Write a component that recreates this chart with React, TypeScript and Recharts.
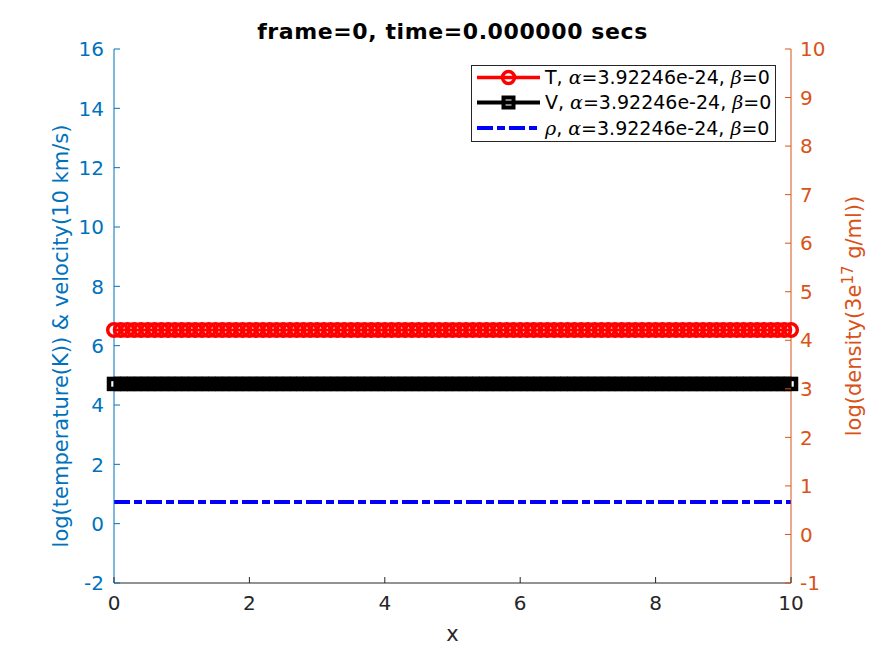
import React from 'react';
import { ComposedChart, Line, XAxis, YAxis, Legend } from 'recharts';

const xValues = [
  0, 0.1, 0.2, 0.3, 0.4, 0.5, 0.6, 0.7, 0.8, 0.9,
  1, 1.1, 1.2, 1.3, 1.4, 1.5, 1.6, 1.7, 1.8, 1.9,
  2, 2.1, 2.2, 2.3, 2.4, 2.5, 2.6, 2.7, 2.8, 2.9,
  3, 3.1, 3.2, 3.3, 3.4, 3.5, 3.6, 3.7, 3.8, 3.9,
  4, 4.1, 4.2, 4.3, 4.4, 4.5, 4.6, 4.7, 4.8, 4.9,
  5, 5.1, 5.2, 5.3, 5.4, 5.5, 5.6, 5.7, 5.8, 5.9,
  6, 6.1, 6.2, 6.3, 6.4, 6.5, 6.6, 6.7, 6.8, 6.9,
  7, 7.1, 7.2, 7.3, 7.4, 7.5, 7.6, 7.7, 7.8, 7.9,
  8, 8.1, 8.2, 8.3, 8.4, 8.5, 8.6, 8.7, 8.8, 8.9,
  9, 9.1, 9.2, 9.3, 9.4, 9.5, 9.6, 9.7, 9.8, 9.9,
  10,
];

const temperature = [
  6.53, 6.53, 6.53, 6.53, 6.53, 6.53, 6.53, 6.53, 6.53, 6.53,
  6.53, 6.53, 6.53, 6.53, 6.53, 6.53, 6.53, 6.53, 6.53, 6.53,
  6.53, 6.53, 6.53, 6.53, 6.53, 6.53, 6.53, 6.53, 6.53, 6.53,
  6.53, 6.53, 6.53, 6.53, 6.53, 6.53, 6.53, 6.53, 6.53, 6.53,
  6.53, 6.53, 6.53, 6.53, 6.53, 6.53, 6.53, 6.53, 6.53, 6.53,
  6.53, 6.53, 6.53, 6.53, 6.53, 6.53, 6.53, 6.53, 6.53, 6.53,
  6.53, 6.53, 6.53, 6.53, 6.53, 6.53, 6.53, 6.53, 6.53, 6.53,
  6.53, 6.53, 6.53, 6.53, 6.53, 6.53, 6.53, 6.53, 6.53, 6.53,
  6.53, 6.53, 6.53, 6.53, 6.53, 6.53, 6.53, 6.53, 6.53, 6.53,
  6.53, 6.53, 6.53, 6.53, 6.53, 6.53, 6.53, 6.53, 6.53, 6.53,
  6.53,
];

const velocity = [
  4.71, 4.71, 4.71, 4.71, 4.71, 4.71, 4.71, 4.71, 4.71, 4.71,
  4.71, 4.71, 4.71, 4.71, 4.71, 4.71, 4.71, 4.71, 4.71, 4.71,
  4.71, 4.71, 4.71, 4.71, 4.71, 4.71, 4.71, 4.71, 4.71, 4.71,
  4.71, 4.71, 4.71, 4.71, 4.71, 4.71, 4.71, 4.71, 4.71, 4.71,
  4.71, 4.71, 4.71, 4.71, 4.71, 4.71, 4.71, 4.71, 4.71, 4.71,
  4.71, 4.71, 4.71, 4.71, 4.71, 4.71, 4.71, 4.71, 4.71, 4.71,
  4.71, 4.71, 4.71, 4.71, 4.71, 4.71, 4.71, 4.71, 4.71, 4.71,
  4.71, 4.71, 4.71, 4.71, 4.71, 4.71, 4.71, 4.71, 4.71, 4.71,
  4.71, 4.71, 4.71, 4.71, 4.71, 4.71, 4.71, 4.71, 4.71, 4.71,
  4.71, 4.71, 4.71, 4.71, 4.71, 4.71, 4.71, 4.71, 4.71, 4.71,
  4.71,
];

const density = [
  0.67, 0.67, 0.67, 0.67, 0.67, 0.67, 0.67, 0.67, 0.67, 0.67,
  0.67, 0.67, 0.67, 0.67, 0.67, 0.67, 0.67, 0.67, 0.67, 0.67,
  0.67, 0.67, 0.67, 0.67, 0.67, 0.67, 0.67, 0.67, 0.67, 0.67,
  0.67, 0.67, 0.67, 0.67, 0.67, 0.67, 0.67, 0.67, 0.67, 0.67,
  0.67, 0.67, 0.67, 0.67, 0.67, 0.67, 0.67, 0.67, 0.67, 0.67,
  0.67, 0.67, 0.67, 0.67, 0.67, 0.67, 0.67, 0.67, 0.67, 0.67,
  0.67, 0.67, 0.67, 0.67, 0.67, 0.67, 0.67, 0.67, 0.67, 0.67,
  0.67, 0.67, 0.67, 0.67, 0.67, 0.67, 0.67, 0.67, 0.67, 0.67,
  0.67, 0.67, 0.67, 0.67, 0.67, 0.67, 0.67, 0.67, 0.67, 0.67,
  0.67, 0.67, 0.67, 0.67, 0.67, 0.67, 0.67, 0.67, 0.67, 0.67,
  0.67,
];

const xTicks = [0, 2, 4, 6, 8, 10];
const leftTicks = [-2, 0, 2, 4, 6, 8, 10, 12, 14, 16];
const rightTicks = [-1, 0, 1, 2, 3, 4, 5, 6, 7, 8, 9, 10];
const seriesNames = ['T', 'V', 'ρ'];
const alphaText = '3.92246e-24';
const betaText = '0';
const titleText = 'frame=0, time=0.000000 secs';

const data = xValues.map((x, i) => ({
  x,
  T: temperature[i],
  V: velocity[i],
  rho: density[i],
}));

const BLUE = '#0072BD';
const ORANGE = '#D95319';
const DARK = '#262626';
const FONT = '"DejaVu Sans", sans-serif';
const TICK_FS = 20;
const TICK_LEN = 6;

const LeftTick = (props: any) => {
  const { x, y, payload } = props;
  const ax = x + 10;
  return (
    <g>
      <line x1={ax} x2={ax + TICK_LEN} y1={y} y2={y} stroke={BLUE} strokeWidth={1} />
      <text x={x} y={y} dy="0.36em" textAnchor="end" fill={BLUE} fontSize={TICK_FS} fontFamily={FONT}>
        {String(payload.value)}
      </text>
    </g>
  );
};

const RightTick = (props: any) => {
  const { x, y, payload } = props;
  const ax = x - 9;
  return (
    <g>
      <line x1={ax} x2={ax - TICK_LEN} y1={y} y2={y} stroke={ORANGE} strokeWidth={1} />
      <text x={x} y={y} dy="0.36em" textAnchor="start" fill={ORANGE} fontSize={TICK_FS} fontFamily={FONT}>
        {String(payload.value)}
      </text>
    </g>
  );
};

const BottomTick = (props: any) => {
  const { x, y, payload } = props;
  const ay = y - 13;
  return (
    <g>
      <line x1={x} x2={x} y1={ay} y2={ay - TICK_LEN} stroke={DARK} strokeWidth={1} />
      <text x={x} y={y} dy="0.71em" textAnchor="middle" fill={DARK} fontSize={TICK_FS} fontFamily={FONT}>
        {String(payload.value)}
      </text>
    </g>
  );
};

const SquareDot = (props: any) => {
  const { cx, cy, index } = props;
  if (cx == null || cy == null) return <g key={index} />;
  return (
    <rect key={index} x={cx - 5} y={cy - 5} width={10} height={10} fill="none" stroke="#000000" strokeWidth={4.5} />
  );
};

const LegendLabel = ({ name }: { name: string }) => (
  <>
    <tspan fontStyle={name === 'ρ' ? 'italic' : 'normal'} fontFamily={name === 'ρ' ? '"DejaVu Serif", serif' : FONT}>{name}</tspan>
    <tspan>, </tspan>
    <tspan fontStyle="italic" fontFamily='"DejaVu Serif", serif'>α</tspan>
    <tspan>={alphaText}, </tspan>
    <tspan fontStyle="italic" fontFamily='"DejaVu Serif", serif'>β</tspan>
    <tspan>={betaText}</tspan>
  </>
);

const renderLegend = () => {
  const rows = [12.5, 37.5, 63];
  return (
    <svg width={306} height={77} style={{ display: 'block' }}>
      <rect x={0.5} y={0.5} width={304} height={76} fill="#ffffff" stroke={DARK} strokeWidth={1} />
      <line x1={6} x2={69} y1={rows[0]} y2={rows[0]} stroke="#ff0000" strokeWidth={3.5} />
      <circle cx={37.5} cy={rows[0]} r={6} fill="none" stroke="#ff0000" strokeWidth={3.5} />
      <line x1={6} x2={69} y1={rows[1]} y2={rows[1]} stroke="#000000" strokeWidth={4} />
      <rect x={32.5} y={rows[1] - 5} width={10} height={10} fill="none" stroke="#000000" strokeWidth={4} />
      <line x1={6} x2={69} y1={rows[2]} y2={rows[2]} stroke="#0000ff" strokeWidth={4} strokeDasharray="16 4 8 4" />
      {seriesNames.map((n, i) => (
        <text key={n} x={74} y={rows[i]} dy="0.36em" fontSize={19} fontFamily={FONT} fill="#000000">
          <LegendLabel name={n} />
        </text>
      ))}
    </svg>
  );
};

export default function App() {
  return (
    <div style={{ position: 'absolute', left: 0, top: 0, width: 875, height: 656, background: '#ffffff' }}>
      <ComposedChart
        width={875}
        height={656}
        data={data}
        margin={{ top: 49, right: 0, bottom: 0, left: 0 }}
      >
        <XAxis
          dataKey="x"
          type="number"
          domain={[0, 10]}
          ticks={xTicks}
          height={73}
          tickSize={0}
          tickMargin={13}
          tickLine={false}
          axisLine={{ stroke: DARK, strokeWidth: 1 }}
          tick={<BottomTick />}
          interval={0}
        />
        <YAxis
          yAxisId="L"
          orientation="left"
          type="number"
          domain={[-2, 16]}
          ticks={leftTicks}
          width={114}
          tickSize={0}
          tickMargin={10}
          tickLine={false}
          axisLine={{ stroke: BLUE, strokeWidth: 1 }}
          tick={<LeftTick />}
          interval={0}
        />
        <YAxis
          yAxisId="R"
          orientation="right"
          type="number"
          domain={[-1, 10]}
          ticks={rightTicks}
          width={84}
          tickSize={0}
          tickMargin={9}
          tickLine={false}
          axisLine={{ stroke: ORANGE, strokeWidth: 1 }}
          tick={<RightTick />}
          interval={0}
        />
        <Legend
          layout="horizontal"
          verticalAlign="middle"
          align="center"
          content={renderLegend}
          wrapperStyle={{ position: 'absolute', left: 471, top: 65, width: 306, height: 77 }}
        />
        <Line
          yAxisId="L"
          dataKey="T"
          name="T"
          stroke="#ff0000"
          strokeWidth={3}
          dot={{ r: 6.3, fill: 'none', stroke: '#ff0000', strokeWidth: 3.5 }}
          activeDot={false}
          isAnimationActive={false}
        />
        <Line
          yAxisId="L"
          dataKey="V"
          name="V"
          stroke="#000000"
          strokeWidth={4}
          dot={SquareDot}
          activeDot={false}
          isAnimationActive={false}
        />
        <Line
          yAxisId="R"
          dataKey="rho"
          name="ρ"
          stroke="#0000ff"
          strokeWidth={4}
          strokeDasharray="16 4 8 4"
          dot={false}
          activeDot={false}
          isAnimationActive={false}
        />
        <text x={452.5} y={31} dy="0.36em" textAnchor="middle" fontSize={22} letterSpacing={0.6} fontWeight="bold" fontFamily={FONT} fill="#000000">
          {titleText}
        </text>
        <text x={452.5} y={633} dy="0.36em" textAnchor="middle" fontSize={21} fontFamily={FONT} fill={DARK}>
          x
        </text>
        <text
          x={60}
          y={336}
          dy="0.36em"
          textAnchor="middle"
          fontSize={21}
          fontFamily={FONT}
          fill={BLUE}
          transform="rotate(-90 60 336)"
        >
          log(temperature(K)) &amp; velocity(10 km/s)
        </text>
        <text
          x={853}
          y={316}
          dy="0.36em"
          textAnchor="middle"
          fontSize={21}
          fontFamily={FONT}
          fill={ORANGE}
          transform="rotate(-90 853 316)"
        >
          <tspan>log(density(3e</tspan>
          <tspan dy={-8} fontSize={15}>17</tspan>
          <tspan dy={8}> g/ml))</tspan>
        </text>
      </ComposedChart>
    </div>
  );
}
